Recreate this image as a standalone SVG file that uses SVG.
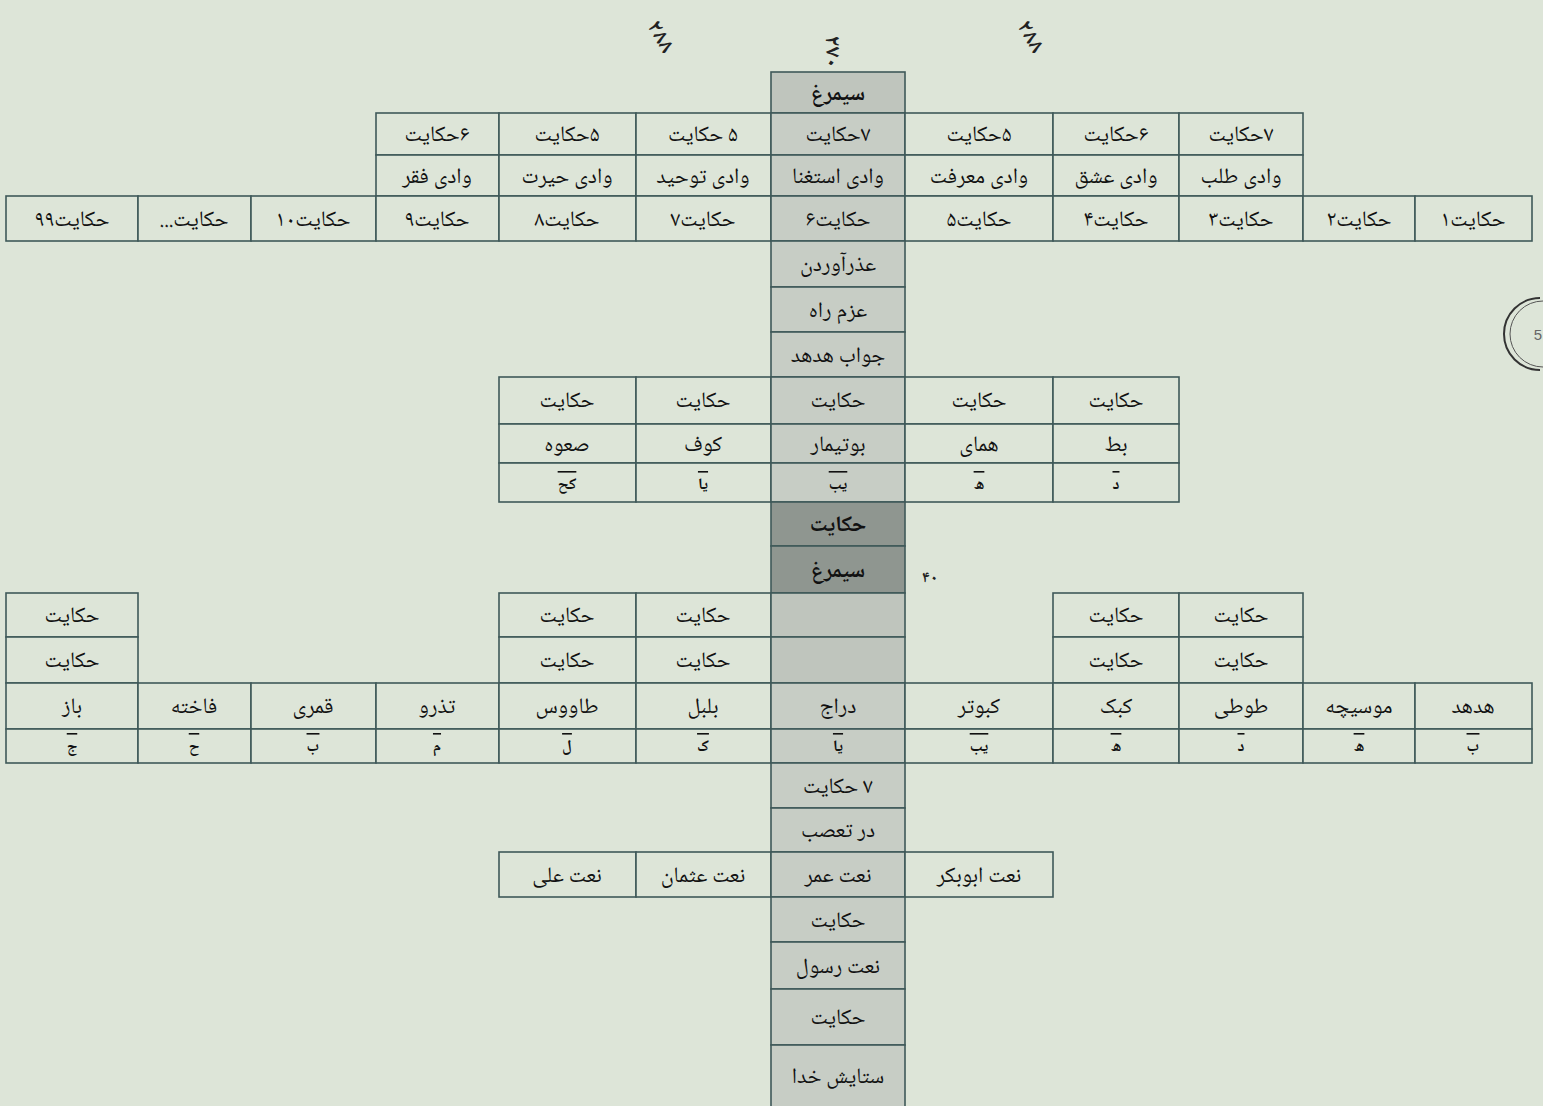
<svg xmlns="http://www.w3.org/2000/svg" width="1543" height="1106" viewBox="0 0 1543 1106">
<style>
rect{stroke:#3f5959;stroke-width:1.6}
rect.bg{stroke:none;fill:#dde5d8}
.c{fill:#dde5d8}
.m{fill:#c7cdc5}
.m2{fill:#bfc5bd}
.d{fill:#8f9690}
text{font-family:"Noto Naskh Arabic","DejaVu Sans",sans-serif;font-size:22px;fill:#111;text-anchor:middle;direction:rtl}
.b{font-weight:bold;font-size:22px}
.a{font-size:16px;font-weight:bold;text-decoration:overline}
.h{font-size:22px;fill:#222;font-weight:bold}
</style>
<rect class="bg" x="0" y="0" width="1543" height="1106"/>
<g id="connectors"/>
<g id="marks">
<text class="h" transform="translate(655,40) rotate(60)">۲۸۸</text>
<text class="h" transform="translate(826,52) rotate(90)">۲۷۰</text>
<text class="h" transform="translate(1025,40) rotate(60)">۲۸۸</text>
<text class="h" x="930" y="582" style="font-size:16px">۴۰</text>
<path d="M1540 298 A36 36 0 0 0 1540 370" fill="none" stroke="#333" stroke-width="2"/>
<path d="M1543 301 A33 33 0 0 0 1543 367" fill="none" stroke="#555" stroke-width="1"/>
<text x="1538" y="340" style="font-family:'Liberation Sans',sans-serif;font-size:15px;fill:#666;direction:ltr">5</text>
</g>
<g id="rowA"><g id="n-simorgh-top"><rect class="m2" x="771" y="72" width="134" height="41"/><text class="b" x="838" y="100">سیمرغ</text></g></g>
<g id="rowB">
<g id="b1"><rect class="c" x="376" y="113" width="123" height="42"/><text x="437" y="141">۶حکایت</text></g>
<g id="b2"><rect class="c" x="499" y="113" width="137" height="42"/><text x="567" y="141">۵حکایت</text></g>
<g id="b3"><rect class="c" x="636" y="113" width="135" height="42"/><text x="703" y="141">۵ حکایت</text></g>
<g id="b4"><rect class="m" x="771" y="113" width="134" height="42"/><text x="838" y="141">۷حکایت</text></g>
<g id="b5"><rect class="c" x="905" y="113" width="148" height="42"/><text x="979" y="141">۵حکایت</text></g>
<g id="b6"><rect class="c" x="1053" y="113" width="126" height="42"/><text x="1116" y="141">۶حکایت</text></g>
<g id="b7"><rect class="c" x="1179" y="113" width="124" height="42"/><text x="1241" y="141">۷حکایت</text></g>
</g>
<g id="rowC">
<g id="c1"><rect class="c" x="376" y="155" width="123" height="41"/><text x="437" y="183">وادی فقر</text></g>
<g id="c2"><rect class="c" x="499" y="155" width="137" height="41"/><text x="567" y="183">وادی حیرت</text></g>
<g id="c3"><rect class="c" x="636" y="155" width="135" height="41"/><text x="703" y="183">وادی توحید</text></g>
<g id="c4"><rect class="m" x="771" y="155" width="134" height="41"/><text x="838" y="183">وادی استغنا</text></g>
<g id="c5"><rect class="c" x="905" y="155" width="148" height="41"/><text x="979" y="183">وادی معرفت</text></g>
<g id="c6"><rect class="c" x="1053" y="155" width="126" height="41"/><text x="1116" y="183">وادی عشق</text></g>
<g id="c7"><rect class="c" x="1179" y="155" width="124" height="41"/><text x="1241" y="183">وادی طلب</text></g>
</g>
<g id="rowD">
<g id="d1"><rect class="c" x="6" y="196" width="132" height="45"/><text x="72" y="226">حکایت۹۹</text></g>
<g id="d2"><rect class="c" x="138" y="196" width="113" height="45"/><text x="194" y="226">حکایت...</text></g>
<g id="d3"><rect class="c" x="251" y="196" width="125" height="45"/><text x="313" y="226">حکایت۱۰</text></g>
<g id="d4"><rect class="c" x="376" y="196" width="123" height="45"/><text x="437" y="226">حکایت۹</text></g>
<g id="d5"><rect class="c" x="499" y="196" width="137" height="45"/><text x="567" y="226">حکایت۸</text></g>
<g id="d6"><rect class="c" x="636" y="196" width="135" height="45"/><text x="703" y="226">حکایت۷</text></g>
<g id="d7"><rect class="m" x="771" y="196" width="134" height="45"/><text x="838" y="226">حکایت۶</text></g>
<g id="d8"><rect class="c" x="905" y="196" width="148" height="45"/><text x="979" y="226">حکایت۵</text></g>
<g id="d9"><rect class="c" x="1053" y="196" width="126" height="45"/><text x="1116" y="226">حکایت۴</text></g>
<g id="d10"><rect class="c" x="1179" y="196" width="124" height="45"/><text x="1241" y="226">حکایت۳</text></g>
<g id="d11"><rect class="c" x="1303" y="196" width="112" height="45"/><text x="1359" y="226">حکایت۲</text></g>
<g id="d12"><rect class="c" x="1415" y="196" width="117" height="45"/><text x="1473" y="226">حکایت۱</text></g>
</g>
<g id="mid1">
<g id="e-ozr"><rect class="m" x="771" y="241" width="134" height="46"/><text x="838" y="271">عذرآوردن</text></g>
<g id="e-azm"><rect class="m" x="771" y="287" width="134" height="45"/><text x="838" y="317">عزم راه</text></g>
<g id="e-javab"><rect class="m" x="771" y="332" width="134" height="45"/><text x="838" y="362">جواب هدهد</text></g>
</g>
<g id="rowE">
<g id="f1"><rect class="c" x="499" y="377" width="137" height="47"/><text x="567" y="407">حکایت</text></g>
<g id="f2"><rect class="c" x="636" y="377" width="135" height="47"/><text x="703" y="407">حکایت</text></g>
<g id="f3"><rect class="m" x="771" y="377" width="134" height="47"/><text x="838" y="407">حکایت</text></g>
<g id="f4"><rect class="c" x="905" y="377" width="148" height="47"/><text x="979" y="407">حکایت</text></g>
<g id="f5"><rect class="c" x="1053" y="377" width="126" height="47"/><text x="1116" y="407">حکایت</text></g>
</g>
<g id="rowF">
<g id="g1"><rect class="c" x="499" y="424" width="137" height="39"/><text x="567" y="451">صعوه</text></g>
<g id="g2"><rect class="c" x="636" y="424" width="135" height="39"/><text x="703" y="451">کوف</text></g>
<g id="g3"><rect class="m" x="771" y="424" width="134" height="39"/><text x="838" y="451">بوتیمار</text></g>
<g id="g4"><rect class="c" x="905" y="424" width="148" height="39"/><text x="979" y="451">همای</text></g>
<g id="g5"><rect class="c" x="1053" y="424" width="126" height="39"/><text x="1116" y="451">بط</text></g>
</g>
<g id="rowG">
<g id="h1"><rect class="c" x="499" y="463" width="137" height="39"/><text class="a" x="567" y="489">کح</text></g>
<g id="h2"><rect class="c" x="636" y="463" width="135" height="39"/><text class="a" x="703" y="489">یا</text></g>
<g id="h3"><rect class="m" x="771" y="463" width="134" height="39"/><text class="a" x="838" y="489">یب</text></g>
<g id="h4"><rect class="c" x="905" y="463" width="148" height="39"/><text class="a" x="979" y="489">ه</text></g>
<g id="h5"><rect class="c" x="1053" y="463" width="126" height="39"/><text class="a" x="1116" y="489">د</text></g>
</g>
<g id="dark">
<g id="k-hek"><rect class="d" x="771" y="502" width="134" height="44"/><text class="b" x="838" y="531">حکایت</text></g>
<g id="k-sim"><rect class="d" x="771" y="546" width="134" height="47"/><text class="b" x="838" y="577">سیمرغ</text></g>
</g>
<g id="rowH">
<g id="i1"><rect class="c" x="6" y="593" width="132" height="44"/><text x="72" y="622">حکایت</text></g>
<g id="i2"><rect class="c" x="499" y="593" width="137" height="44"/><text x="567" y="622">حکایت</text></g>
<g id="i3"><rect class="c" x="636" y="593" width="135" height="44"/><text x="703" y="622">حکایت</text></g>
<g id="i4"><rect class="m2" x="771" y="593" width="134" height="44"/></g>
<g id="i5"><rect class="c" x="1053" y="593" width="126" height="44"/><text x="1116" y="622">حکایت</text></g>
<g id="i6"><rect class="c" x="1179" y="593" width="124" height="44"/><text x="1241" y="622">حکایت</text></g>
</g>
<g id="rowI">
<g id="j1"><rect class="c" x="6" y="637" width="132" height="46"/><text x="72" y="667">حکایت</text></g>
<g id="j2"><rect class="c" x="499" y="637" width="137" height="46"/><text x="567" y="667">حکایت</text></g>
<g id="j3"><rect class="c" x="636" y="637" width="135" height="46"/><text x="703" y="667">حکایت</text></g>
<g id="j4"><rect class="m2" x="771" y="637" width="134" height="46"/></g>
<g id="j5"><rect class="c" x="1053" y="637" width="126" height="46"/><text x="1116" y="667">حکایت</text></g>
<g id="j6"><rect class="c" x="1179" y="637" width="124" height="46"/><text x="1241" y="667">حکایت</text></g>
</g>
<g id="rowJ">
<g id="l1"><rect class="c" x="6" y="683" width="132" height="46"/><text x="72" y="713">باز</text></g>
<g id="l2"><rect class="c" x="138" y="683" width="113" height="46"/><text x="194" y="713">فاخته</text></g>
<g id="l3"><rect class="c" x="251" y="683" width="125" height="46"/><text x="313" y="713">قمری</text></g>
<g id="l4"><rect class="c" x="376" y="683" width="123" height="46"/><text x="437" y="713">تذرو</text></g>
<g id="l5"><rect class="c" x="499" y="683" width="137" height="46"/><text x="567" y="713">طاووس</text></g>
<g id="l6"><rect class="c" x="636" y="683" width="135" height="46"/><text x="703" y="713">بلبل</text></g>
<g id="l7"><rect class="m" x="771" y="683" width="134" height="46"/><text x="838" y="713">دراج</text></g>
<g id="l8"><rect class="c" x="905" y="683" width="148" height="46"/><text x="979" y="713">کبوتر</text></g>
<g id="l9"><rect class="c" x="1053" y="683" width="126" height="46"/><text x="1116" y="713">کبک</text></g>
<g id="l10"><rect class="c" x="1179" y="683" width="124" height="46"/><text x="1241" y="713">طوطی</text></g>
<g id="l11"><rect class="c" x="1303" y="683" width="112" height="46"/><text x="1359" y="713">موسیچه</text></g>
<g id="l12"><rect class="c" x="1415" y="683" width="117" height="46"/><text x="1473" y="713">هدهد</text></g>
</g>
<g id="rowK">
<g id="o1"><rect class="c" x="6" y="729" width="132" height="34"/><text class="a" x="72" y="751">ج</text></g>
<g id="o2"><rect class="c" x="138" y="729" width="113" height="34"/><text class="a" x="194" y="751">ح</text></g>
<g id="o3"><rect class="c" x="251" y="729" width="125" height="34"/><text class="a" x="313" y="751">ب</text></g>
<g id="o4"><rect class="c" x="376" y="729" width="123" height="34"/><text class="a" x="437" y="751">م</text></g>
<g id="o5"><rect class="c" x="499" y="729" width="137" height="34"/><text class="a" x="567" y="751">ل</text></g>
<g id="o6"><rect class="c" x="636" y="729" width="135" height="34"/><text class="a" x="703" y="751">ک</text></g>
<g id="o7"><rect class="m" x="771" y="729" width="134" height="34"/><text class="a" x="838" y="751">یا</text></g>
<g id="o8"><rect class="c" x="905" y="729" width="148" height="34"/><text class="a" x="979" y="751">یب</text></g>
<g id="o9"><rect class="c" x="1053" y="729" width="126" height="34"/><text class="a" x="1116" y="751">ه</text></g>
<g id="o10"><rect class="c" x="1179" y="729" width="124" height="34"/><text class="a" x="1241" y="751">د</text></g>
<g id="o11"><rect class="c" x="1303" y="729" width="112" height="34"/><text class="a" x="1359" y="751">ه</text></g>
<g id="o12"><rect class="c" x="1415" y="729" width="117" height="34"/><text class="a" x="1473" y="751">ب</text></g>
</g>
<g id="mid2">
<g id="p-7h"><rect class="m" x="771" y="763" width="134" height="45"/><text x="838" y="793">۷ حکایت</text></g>
<g id="p-taasob"><rect class="m" x="771" y="808" width="134" height="44"/><text x="838" y="837">در تعصب</text></g>
</g>
<g id="rowL">
<g id="q1"><rect class="c" x="499" y="852" width="137" height="45"/><text x="567" y="882">نعت علی</text></g>
<g id="q2"><rect class="c" x="636" y="852" width="135" height="45"/><text x="703" y="882">نعت عثمان</text></g>
<g id="q3"><rect class="m" x="771" y="852" width="134" height="45"/><text x="838" y="882">نعت عمر</text></g>
<g id="q4"><rect class="c" x="905" y="852" width="148" height="45"/><text x="979" y="882">نعت ابوبکر</text></g>
</g>
<g id="mid3">
<g id="r-hek1"><rect class="m" x="771" y="897" width="134" height="45"/><text x="838" y="927">حکایت</text></g>
<g id="r-rasul"><rect class="m" x="771" y="942" width="134" height="47"/><text x="838" y="973">نعت رسول</text></g>
<g id="r-hek2"><rect class="m" x="771" y="989" width="134" height="56"/><text x="838" y="1024">حکایت</text></g>
<g id="r-setayesh"><rect class="m" x="771" y="1045" width="134" height="70"/><text x="838" y="1083">ستایش خدا</text></g>
</g>
</svg>
